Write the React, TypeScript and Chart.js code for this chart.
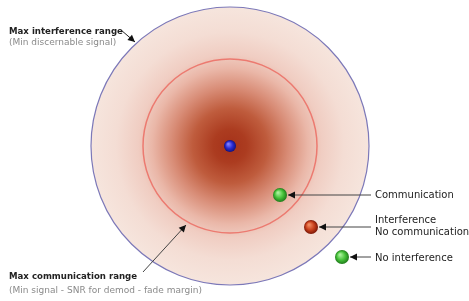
import React, { useEffect, useRef } from 'react';
import { Chart, registerables } from 'chart.js';
Chart.register(...registerables);

// ---- data (units: metres-like, transmitter at origin) ----
const rangeRadii = [87, 139]; // [max communication range, max interference range]

const nodeNames = ['Transmitter', 'Communication', 'Interference', 'No interference'];
const nodeX = [0, 50, 81, 112];
const nodeY = [0, -49, -81, -111];
const nodeKinds = ['tx', 'ok', 'bad', 'ok'];

// arrows: from (label side) -> to (tip)
const arrowFromX = [-109, -87, 141, 141, 141];
const arrowFromY = [116, -126, -49, -81, -111];
const arrowToX = [-95, -44, 58, 89, 120];
const arrowToY = [104, -79, -49, -81, -111];
const arrowLineDark = [true, false, false, false, false];

// text labels
const labelTexts = [
  'Max interference range',
  '(Min discernable signal)',
  'Max communication range',
  '(Min signal - SNR for demod - fade margin)',
  'Communication',
  'Interference',
  'No communication',
  'No interference',
];
const labelX = [-221, -221, -221, -221, 145, 145, 145, 145];
const labelY = [114, 103, -131, -145, -49, -74, -86, -112];
const labelKinds = ['title', 'note', 'title', 'note', 'side', 'side', 'side', 'side'];

const X_MIN = -230, X_MAX = 239, Y_MIN = -155, Y_MAX = 146;

function makeSphere(r: number, light: string, mid: string, dark: string): HTMLCanvasElement {
  const c = document.createElement('canvas');
  const s = Math.ceil(r * 2 + 2);
  c.width = s; c.height = s;
  const g = c.getContext('2d')!;
  const cx = s / 2, cy = s / 2;
  const grad = g.createRadialGradient(cx - r * 0.3, cy - r * 0.35, r * 0.1, cx, cy, r);
  grad.addColorStop(0, light);
  grad.addColorStop(0.55, mid);
  grad.addColorStop(1, dark);
  g.fillStyle = grad;
  g.beginPath();
  g.arc(cx, cy, r, 0, Math.PI * 2);
  g.fill();
  return c;
}

export default function App() {
  const ref = useRef<HTMLCanvasElement | null>(null);
  useEffect(() => {
    if (!ref.current) return;
    const spheres: Record<string, HTMLCanvasElement> = {
      tx: makeSphere(6, '#7d7dff', '#2a2ad0', '#12127a'),
      ok: makeSphere(7, '#a8f09a', '#46c23a', '#1f7a1a'),
      bad: makeSphere(7, '#f08a60', '#c8401c', '#7a1606'),
    };

    const rangePlugin = {
      id: 'ranges',
      beforeDatasetsDraw(chart: any) {
        const { ctx, scales } = chart;
        const xs = scales.x, ys = scales.y;
        const cx = xs.getPixelForValue(nodeX[0]);
        const cy = ys.getPixelForValue(nodeY[0]);
        const rOuter = xs.getPixelForValue(nodeX[0] + rangeRadii[1]) - cx;
        const rInner = xs.getPixelForValue(nodeX[0] + rangeRadii[0]) - cx;
        ctx.save();
        const grad = ctx.createRadialGradient(cx, cy, 0, cx, cy, rOuter);
        grad.addColorStop(0, '#a5321a');
        grad.addColorStop(0.12, '#ac3c20');
        grad.addColorStop(0.27, '#bf5c3d');
        grad.addColorStop(0.42, '#d88c76');
        grad.addColorStop(0.56, '#eab7a8');
        grad.addColorStop(0.66, '#f0cdc2');
        grad.addColorStop(0.82, '#f4ddd4');
        grad.addColorStop(1, '#f6e5dd');
        ctx.fillStyle = grad;
        ctx.beginPath();
        ctx.arc(cx, cy, rOuter, 0, Math.PI * 2);
        ctx.fill();
        ctx.lineWidth = 1.2;
        ctx.strokeStyle = '#7c78b8';
        ctx.stroke();
        ctx.beginPath();
        ctx.arc(cx, cy, rInner, 0, Math.PI * 2);
        ctx.lineWidth = 1.5;
        ctx.strokeStyle = '#ec7a70';
        ctx.stroke();
        ctx.restore();
      },
    };

    const annotPlugin = {
      id: 'annot',
      afterDatasetsDraw(chart: any) {
        const { ctx, scales } = chart;
        const xs = scales.x, ys = scales.y;
        ctx.save();
        for (let i = 0; i < arrowToX.length; i++) {
          const x0 = xs.getPixelForValue(arrowFromX[i]);
          const y0 = ys.getPixelForValue(arrowFromY[i]);
          const x1 = xs.getPixelForValue(arrowToX[i]);
          const y1 = ys.getPixelForValue(arrowToY[i]);
          const a = Math.atan2(y1 - y0, x1 - x0);
          const L = 7, W = 3.5;
          ctx.fillStyle = '#111';
          ctx.beginPath();
          ctx.moveTo(x1, y1);
          ctx.lineTo(x1 - L * Math.cos(a) + W * Math.sin(a), y1 - L * Math.sin(a) - W * Math.cos(a));
          ctx.lineTo(x1 - L * Math.cos(a) - W * Math.sin(a), y1 - L * Math.sin(a) + W * Math.cos(a));
          ctx.closePath();
          ctx.fill();
        }
        ctx.textBaseline = 'middle';
        ctx.textAlign = 'left';
        for (let i = 0; i < labelTexts.length; i++) {
          const k = labelKinds[i];
          if (k === 'title') {
            ctx.font = 'bold 8.6px "DejaVu Sans", sans-serif';
            ctx.fillStyle = '#222';
          } else if (k === 'note') {
            ctx.font = '9px "DejaVu Sans", sans-serif';
            ctx.fillStyle = '#8a8a8a';
          } else {
            ctx.font = '10px "DejaVu Sans", sans-serif';
            ctx.fillStyle = '#222';
          }
          ctx.fillText(labelTexts[i], xs.getPixelForValue(labelX[i]), ys.getPixelForValue(labelY[i]));
        }
        ctx.restore();
      },
    };

    const arrowSets = arrowToX.map((_, i) => ({
      type: 'line' as const,
      label: 'arrow' + i,
      data: [
        { x: arrowFromX[i], y: arrowFromY[i] },
        { x: arrowToX[i], y: arrowToY[i] },
      ],
      showLine: true,
      borderColor: arrowLineDark[i] ? '#222' : '#444',
      borderWidth: 1,
      pointRadius: 0,
      fill: false,
    }));

    const chart = new Chart(ref.current, {
      type: 'scatter',
      data: {
        datasets: [
          {
            label: 'Nodes',
            data: nodeX.map((x, i) => ({ x, y: nodeY[i] })),
            pointStyle: nodeKinds.map((k) => spheres[k]) as any,
            pointRadius: 7,
          } as any,
          ...arrowSets,
        ],
      },
      options: {
        animation: false,
        responsive: true,
        maintainAspectRatio: false,
        layout: { padding: 0, autoPadding: false },
        plugins: { legend: { display: false }, tooltip: { enabled: false } },
        scales: {
          x: { type: 'linear', min: X_MIN, max: X_MAX, display: false },
          y: { type: 'linear', min: Y_MIN, max: Y_MAX, display: false },
        },
      },
      plugins: [rangePlugin, annotPlugin],
    });
    return () => chart.destroy();
  }, []);

  return (
    <div style={{ position: 'fixed', left: 0, top: 0, width: 469, height: 301, background: '#fff' }}>
      <canvas ref={ref} />
    </div>
  );
}
